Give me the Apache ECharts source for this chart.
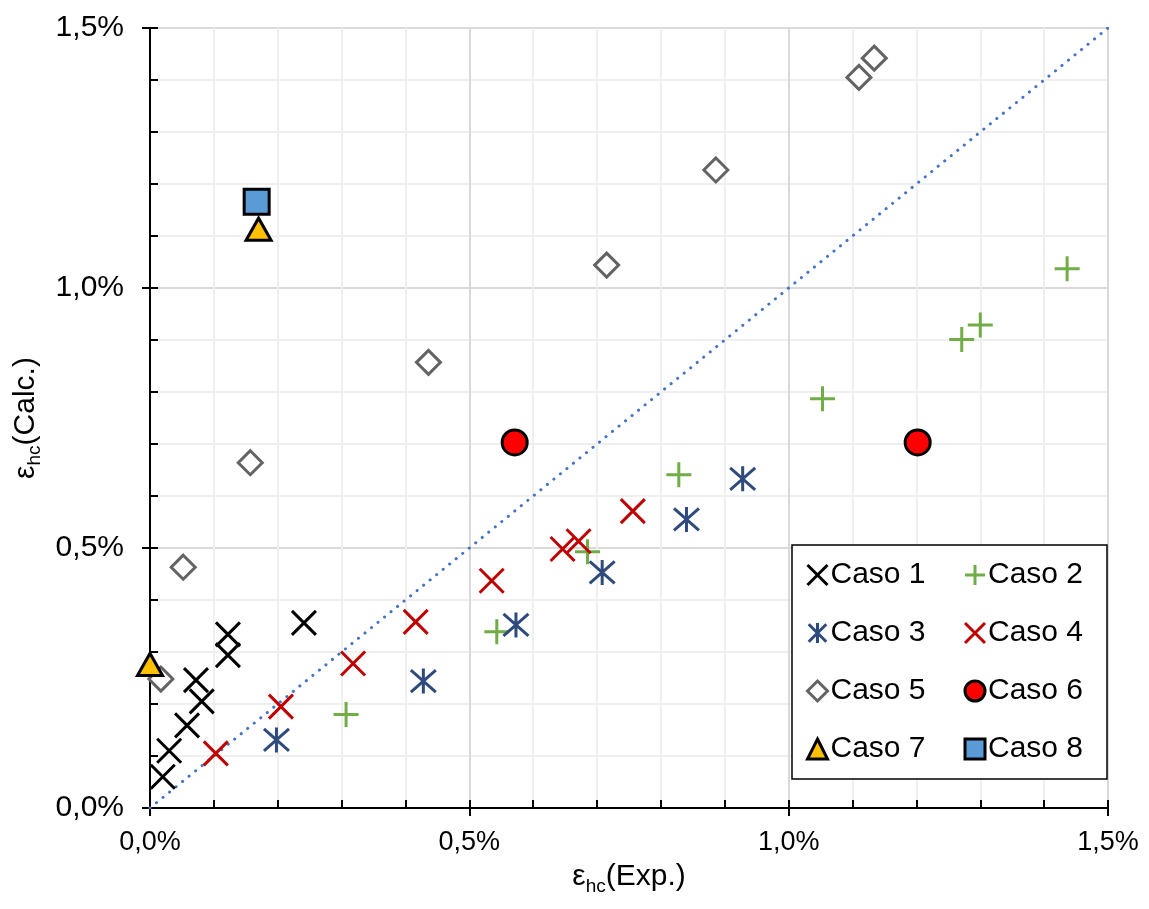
<!DOCTYPE html>
<html>
<head>
<meta charset="utf-8">
<script src="https://cdn.jsdelivr.net/npm/echarts@6/dist/echarts.min.js"></script>
<style>
  html, body { margin: 0; padding: 0; background: #fff; }
  #chart { width: 1149px; height: 909px; }
</style>
</head>
<body>
<div id="chart"></div>
<script>
// Strain values in percent: experimental (x) vs calculated (y)
const caso1X = [0.020, 0.030, 0.058, 0.081, 0.072, 0.122, 0.122, 0.241];
const caso1Y = [0.060, 0.110, 0.159, 0.205, 0.246, 0.294, 0.334, 0.356];

const caso2X = [0.307, 0.543, 0.685, 0.828, 1.053, 1.271, 1.300, 1.436];
const caso2Y = [0.180, 0.339, 0.493, 0.641, 0.787, 0.901, 0.929, 1.037];

const caso3X = [0.198, 0.428, 0.573, 0.708, 0.840, 0.928];
const caso3Y = [0.131, 0.244, 0.352, 0.453, 0.555, 0.633];

const caso4X = [0.103, 0.205, 0.318, 0.416, 0.535, 0.646, 0.671, 0.756];
const caso4Y = [0.105, 0.195, 0.278, 0.358, 0.437, 0.498, 0.513, 0.571];

const caso5X = [0.017, 0.052, 0.157, 0.436, 0.715, 0.886, 1.110, 1.134];
const caso5Y = [0.248, 0.463, 0.664, 0.857, 1.044, 1.227, 1.405, 1.442];

const caso6X = [0.571, 1.202];
const caso6Y = [0.703, 0.703];

const caso7X = [0.000, 0.170];
const caso7Y = [0.276, 1.113];

const caso8X = [0.167];
const caso8Y = [1.166];

// 1:1 reference line
const lineX = [0, 1.5];
const lineY = [0, 1.5];

const axisTicks = [0, 0.5, 1.0, 1.5];
const legendNames = ['Caso 1', 'Caso 2', 'Caso 3', 'Caso 4', 'Caso 5', 'Caso 6', 'Caso 7', 'Caso 8'];

const FONT = 'Liberation Sans, Arial, sans-serif';
const pct = v => v.toFixed(1).replace('.', ',') + '%';
const pairs = (xs, ys) => xs.map((x, i) => [x, ys[i]]);

// stroke-only glyph paths
const PATH_X = 'path://M0,0L10,10M10,0L0,10';
const PATH_PLUS = 'path://M5,0L5,10M0,5L10,5';
const PATH_STAR = 'path://M0.6,0.6L9.4,9.4M9.4,0.6L0.6,9.4M5,0L5,10';

function strokeSeries(name, xs, ys, symbol, color, size) {
  return {
    name, type: 'scatter', data: pairs(xs, ys), symbol, symbolSize: size,
    itemStyle: { color: color, borderColor: color, borderWidth: 3, opacity: 1 },
    z: 5
  };
}
function filledSeries(name, xs, ys, symbol, fill, border, size, bw) {
  return {
    name, type: 'scatter', data: pairs(xs, ys), symbol, symbolSize: size,
    itemStyle: { color: fill, borderColor: border, borderWidth: bw, opacity: 1 },
    z: 6
  };
}

const labelStyle = { color: '#000', fontFamily: FONT };
const richName = {
  e: { fontSize: 30, fontFamily: FONT, color: '#000', lineHeight: 38 },
  s: { fontSize: 19, fontFamily: FONT, color: '#000', lineHeight: 19, verticalAlign: 'bottom' }
};

const chart = echarts.init(document.getElementById('chart'), null, { renderer: 'canvas' });
chart.setOption({
  animation: false,
  backgroundColor: '#fff',
  grid: { left: 150, right: 41, top: 28, bottom: 101, containLabel: false },
  xAxis: [
    {
      type: 'value', min: axisTicks[0], max: axisTicks[axisTicks.length - 1], interval: 0.5,
      name: '{e|ε}{s|hc}{e|(Exp.)}', nameLocation: 'middle', nameGap: 50,
      nameTextStyle: { rich: richName },
      axisLine: { show: true, onZero: false, lineStyle: { color: '#000', width: 2 } },
      axisTick: { show: true, inside: false, length: 8, lineStyle: { color: '#000', width: 2 } },
      axisLabel: { ...labelStyle, fontSize: 27, margin: 21, formatter: pct },
      splitLine: { show: true, lineStyle: { color: '#d9d9d9', width: 2 } },
      minorTick: { show: false, splitNumber: 5 },
      minorSplitLine: { show: true, lineStyle: { color: '#efefef', width: 2 } }
    },
    {
      type: 'value', min: 0, max: 1.5, interval: 0.1, position: 'bottom',
      axisLine: { show: false, onZero: false },
      axisTick: { show: true, inside: true, length: 8, lineStyle: { color: '#000', width: 2 } },
      axisLabel: { show: false },
      splitLine: { show: false }
    }
  ],
  yAxis: [
    {
      type: 'value', min: axisTicks[0], max: axisTicks[axisTicks.length - 1], interval: 0.5,
      name: '{e|ε}{s|hc}{e|(Calc.)}', nameLocation: 'middle', nameGap: 96,
      nameTextStyle: { rich: richName },
      axisLine: { show: true, onZero: false, lineStyle: { color: '#000', width: 2 } },
      axisTick: { show: true, inside: false, length: 8, lineStyle: { color: '#000', width: 2 } },
      axisLabel: { ...labelStyle, fontSize: 30, margin: 26, formatter: pct },
      splitLine: { show: true, lineStyle: { color: '#d9d9d9', width: 2 } },
      minorTick: { show: false, splitNumber: 5 },
      minorSplitLine: { show: true, lineStyle: { color: '#efefef', width: 2 } }
    },
    {
      type: 'value', min: 0, max: 1.5, interval: 0.1, position: 'left',
      axisLine: { show: false, onZero: false },
      axisTick: { show: true, inside: true, length: 8, lineStyle: { color: '#000', width: 2 } },
      axisLabel: { show: false },
      splitLine: { show: false }
    }
  ],
  legend: {
    left: 792, top: 545, width: 290,
    orient: 'horizontal',
    padding: [15, 14, 15, 14],
    itemGap: 28, itemWidth: 20, itemHeight: 20,
    backgroundColor: '#fff', borderColor: '#000', borderWidth: 1.5, borderRadius: 0,
    textStyle: { fontSize: 30, fontFamily: FONT, color: '#000', width: 105, lineHeight: 28, padding: [0, 0, 0, -2] },
    data: legendNames.map(n => ({ name: n, itemStyle: { borderWidth: 3 } }))
  },
  series: [
    {
      name: '1:1', type: 'line', data: pairs(lineX, lineY), symbol: 'none',
      lineStyle: { color: '#4472c4', width: 3, type: [0.1, 8.3], cap: 'round' },
      silent: true, z: 3
    },
    strokeSeries('Caso 1', caso1X, caso1Y, PATH_X, '#000000', 24),
    strokeSeries('Caso 2', caso2X, caso2Y, PATH_PLUS, '#70ad47', 25),
    strokeSeries('Caso 3', caso3X, caso3Y, PATH_STAR, '#2f4a7c', 25),
    strokeSeries('Caso 4', caso4X, caso4Y, PATH_X, '#c00000', 24),
    filledSeries('Caso 5', caso5X, caso5Y, 'diamond', '#ffffff', '#636363', 24, 3),
    filledSeries('Caso 6', caso6X, caso6Y, 'circle', '#ff0000', '#000000', 25, 3),
    filledSeries('Caso 7', caso7X, caso7Y, 'triangle', '#ffc000', '#000000', [25, 22], 3),
    filledSeries('Caso 8', caso8X, caso8Y, 'rect', '#5b9bd5', '#000000', 25, 3)
  ]
});
</script>
</body>
</html>
